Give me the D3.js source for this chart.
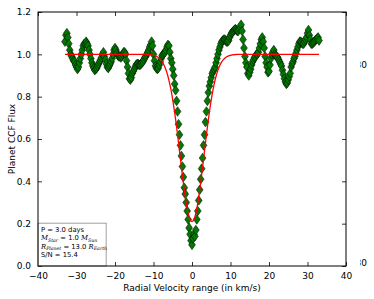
<!DOCTYPE html>
<html><head><meta charset="utf-8">
<script src="https://cdn.jsdelivr.net/npm/d3@7"></script>
<style>body{margin:0;background:#fff}svg{display:block}text{font-family:"DejaVu Sans",sans-serif}</style>
</head><body><svg id="c" width="374" height="299"></svg>
<script>
// velocity grid (km/s)
const vStart = -33, vStep = 0.25;
// observed CCF flux values, one per grid point
const flux = [
1.06,1.09,1.10,1.08, 1.05,1.02,1.00,0.99, 0.98,0.97,0.965,0.95, 0.94,0.93,0.94,0.96,
0.98,1.00,1.02,1.04, 1.05,1.05,1.06,1.05, 1.04,1.02,1.00,0.98, 0.96,0.945,0.935,0.925,
0.93,0.935,0.945,0.955, 0.965,0.975,0.985,1.00, 1.01,0.99,0.975,0.955, 0.94,0.935,0.945,0.955,
0.965,0.98,1.00,1.02, 1.03,1.02,1.005,0.995, 0.99,0.99,0.985,0.99, 1.00,1.01,1.01,1.00,
0.97,0.94,0.91,0.885, 0.88,0.89,0.91,0.92, 0.93,0.94,0.95,0.955, 0.955,0.95,0.95,0.955,
0.96,0.965,0.975,0.985, 0.99,1.00,1.01,1.02, 1.035,1.045,1.06,1.04, 1.00,0.97,0.945,0.935,
0.93,0.935,0.95,0.965, 0.98,0.995,1.00,1.005, 1.01,1.02,1.035,1.045, 1.04,1.01,0.98,0.96,
0.93,0.90,0.86,0.83, 0.78,0.73,0.67,0.62, 0.57,0.52,0.47,0.42, 0.37,0.34,0.30,0.26,
0.22,0.18,0.15,0.12,
0.10,0.13,0.15,0.14, 0.17,0.22,0.26,0.31, 0.36,0.41,0.46,0.51, 0.57,0.62,0.68,0.73,
0.78,0.82,0.85,0.87, 0.89,0.91,0.92,0.93, 0.94,0.96,0.98,1.00, 1.02,1.035,1.05,1.06,
1.065,1.07,1.07,1.065, 1.06,1.06,1.065,1.08, 1.09,1.10,1.105,1.11, 1.115,1.12,1.115,1.11,
1.11,1.12,1.13,1.14, 1.11,1.07,1.03,0.99, 0.96,0.94,0.91,0.90, 0.915,0.93,0.95,0.965,
0.975,0.985,0.99,1.00, 1.00,1.01,1.03,1.05, 1.07,1.08,1.06,1.03, 0.99,0.96,0.94,0.915,
0.92,0.95,0.98,1.00, 1.01,1.02,1.00,0.995, 0.99,0.985,0.975,0.965, 0.955,0.945,0.925,0.905,
0.885,0.87,0.86,0.865, 0.88,0.895,0.91,0.94, 0.955,0.965,0.98,0.99, 1.005,1.02,1.035,1.05,
1.06,1.06,1.055,1.05, 1.05,1.06,1.07,1.08, 1.10,1.115,1.09,1.07, 1.05,1.05,1.055,1.06,
1.065,1.07,1.075,1.08, 1.065
];
// Gaussian fit parameters: [baseline, depth, centre (km/s), sigma (km/s)]
const fitParams = [1.0, 0.79, 0.0, 3.1];
const xTicks = [-40,-30,-20,-10,0,10,20,30,40];
const yTicks = [0.0,0.2,0.4,0.6,0.8,1.0,1.2];
const infoLines = ["P = 3.0 days","M|Star| = 1.0 M|Sun","R|Planet| = 13.0 R|Earth","S/N = 15.4"];
const sideLabels = ["30","30"];

const velocity = d3.range(flux.length).map(i => vStart + i*vStep);
const data = velocity.map((v,i)=>({v, f: flux[i]}));

const svg = d3.select("#c");
const L=38,R=346,T=12,B=266;
const x = d3.scaleLinear().domain([-40,40]).range([L,R]);
const y = d3.scaleLinear().domain([0,1.2]).range([B,T]);

svg.append("rect").attr("width",374).attr("height",299).attr("fill","#fff");

// axes with inward ticks
const fmtY = d => d.toFixed(1);
const fmtX = d => d < 0 ? "\u2212" + Math.abs(d) : String(d);
svg.append("g").attr("transform",`translate(0,${B})`)
  .call(d3.axisBottom(x).tickValues(xTicks).tickSize(-4).tickPadding(7).tickFormat(fmtX))
  .call(g=>g.select(".domain").remove());
svg.append("g").attr("transform",`translate(0,${T})`)
  .call(d3.axisTop(x).tickValues(xTicks).tickSize(-4).tickFormat(""))
  .call(g=>g.select(".domain").remove());
svg.append("g").attr("transform",`translate(${L},0)`)
  .call(d3.axisLeft(y).tickValues(yTicks).tickSize(-4).tickPadding(7).tickFormat(fmtY))
  .call(g=>g.select(".domain").remove());
svg.append("g").attr("transform",`translate(${R},0)`)
  .call(d3.axisRight(y).tickValues(yTicks).tickSize(-4).tickFormat(""))
  .call(g=>g.select(".domain").remove());
svg.selectAll(".tick line").attr("stroke","#000").attr("stroke-width",0.8);
svg.selectAll(".tick text").attr("font-size",9).attr("fill","#000").attr("font-family","DejaVu Sans");

// info box
const box = svg.append("g");
box.append("rect").attr("x",L).attr("y",y(0.2)-0.5).attr("width",x(-22.3)-L).attr("height",B-y(0.2)+0.5)
  .attr("fill","#fff").attr("stroke","#888").attr("stroke-width",0.8);
infoLines.forEach((ln,i)=>{
  const t = box.append("text").attr("x",L+3).attr("y",y(0.2)+8.5+i*8.2).attr("font-size",6.8).attr("fill","#000");
  if(ln.includes("|")){
    const parts = ln.split("|");
    const m = parts[2].match(/^(.*) (\S)$/);
    t.append("tspan").text(parts[0]).attr("font-family","DejaVu Serif").attr("font-style","italic");
    t.append("tspan").text(parts[1]).attr("font-family","DejaVu Serif").attr("font-style","italic").attr("font-size",4.7).attr("dy",1.6);
    t.append("tspan").text(m[1]+" ").attr("dy",-1.6);
    t.append("tspan").text(m[2]).attr("font-family","DejaVu Serif").attr("font-style","italic");
    t.append("tspan").text(parts[3]).attr("font-family","DejaVu Serif").attr("font-style","italic").attr("font-size",4.7).attr("dy",1.6);
  } else t.text(ln);
});

// data diamonds
const dia = "M0,-4.8L3.4,0L0,4.8L-3.4,0Z";
svg.append("g").selectAll("path").data(data).join("path")
  .attr("d",dia).attr("transform",d=>`translate(${x(d.v)},${y(d.f)})`)
  .attr("fill","#007a00").attr("stroke","#000").attr("stroke-width",0.5);

// fit line (on top of markers)
const gauss = v => fitParams[0] - fitParams[1]*Math.exp(-((v-fitParams[2])**2)/(2*fitParams[3]**2));
svg.append("path").datum(velocity)
  .attr("d", d3.line().x(v=>x(v)).y(v=>y(gauss(v))))
  .attr("fill","none").attr("stroke","#ff0000").attr("stroke-width",1.3);

// frame
svg.append("rect").attr("x",L).attr("y",T).attr("width",R-L).attr("height",B-T)
  .attr("fill","none").attr("stroke","#000").attr("stroke-width",1);

// labels
svg.append("text").attr("x",(L+R)/2).attr("y",291).attr("text-anchor","middle").attr("font-size",9).text("Radial Velocity range (in km/s)");
svg.append("text").attr("transform",`translate(15,${(T+B)/2}) rotate(-90)`).attr("text-anchor","middle").attr("font-size",9).text("Planet CCF Flux");

// clipped labels from neighbouring axis at the right edge
svg.append("clipPath").attr("id","rc").append("rect").attr("x",360).attr("y",0).attr("width",20).attr("height",299);
const rg = svg.append("g").attr("clip-path","url(#rc)");
[y(1.0)+11, y(0)-3].forEach((yy,i)=>{
  rg.append("text").attr("x",367).attr("y",yy+3).attr("text-anchor","end").attr("font-size",9).text(sideLabels[i]);
});
</script></body></html>
